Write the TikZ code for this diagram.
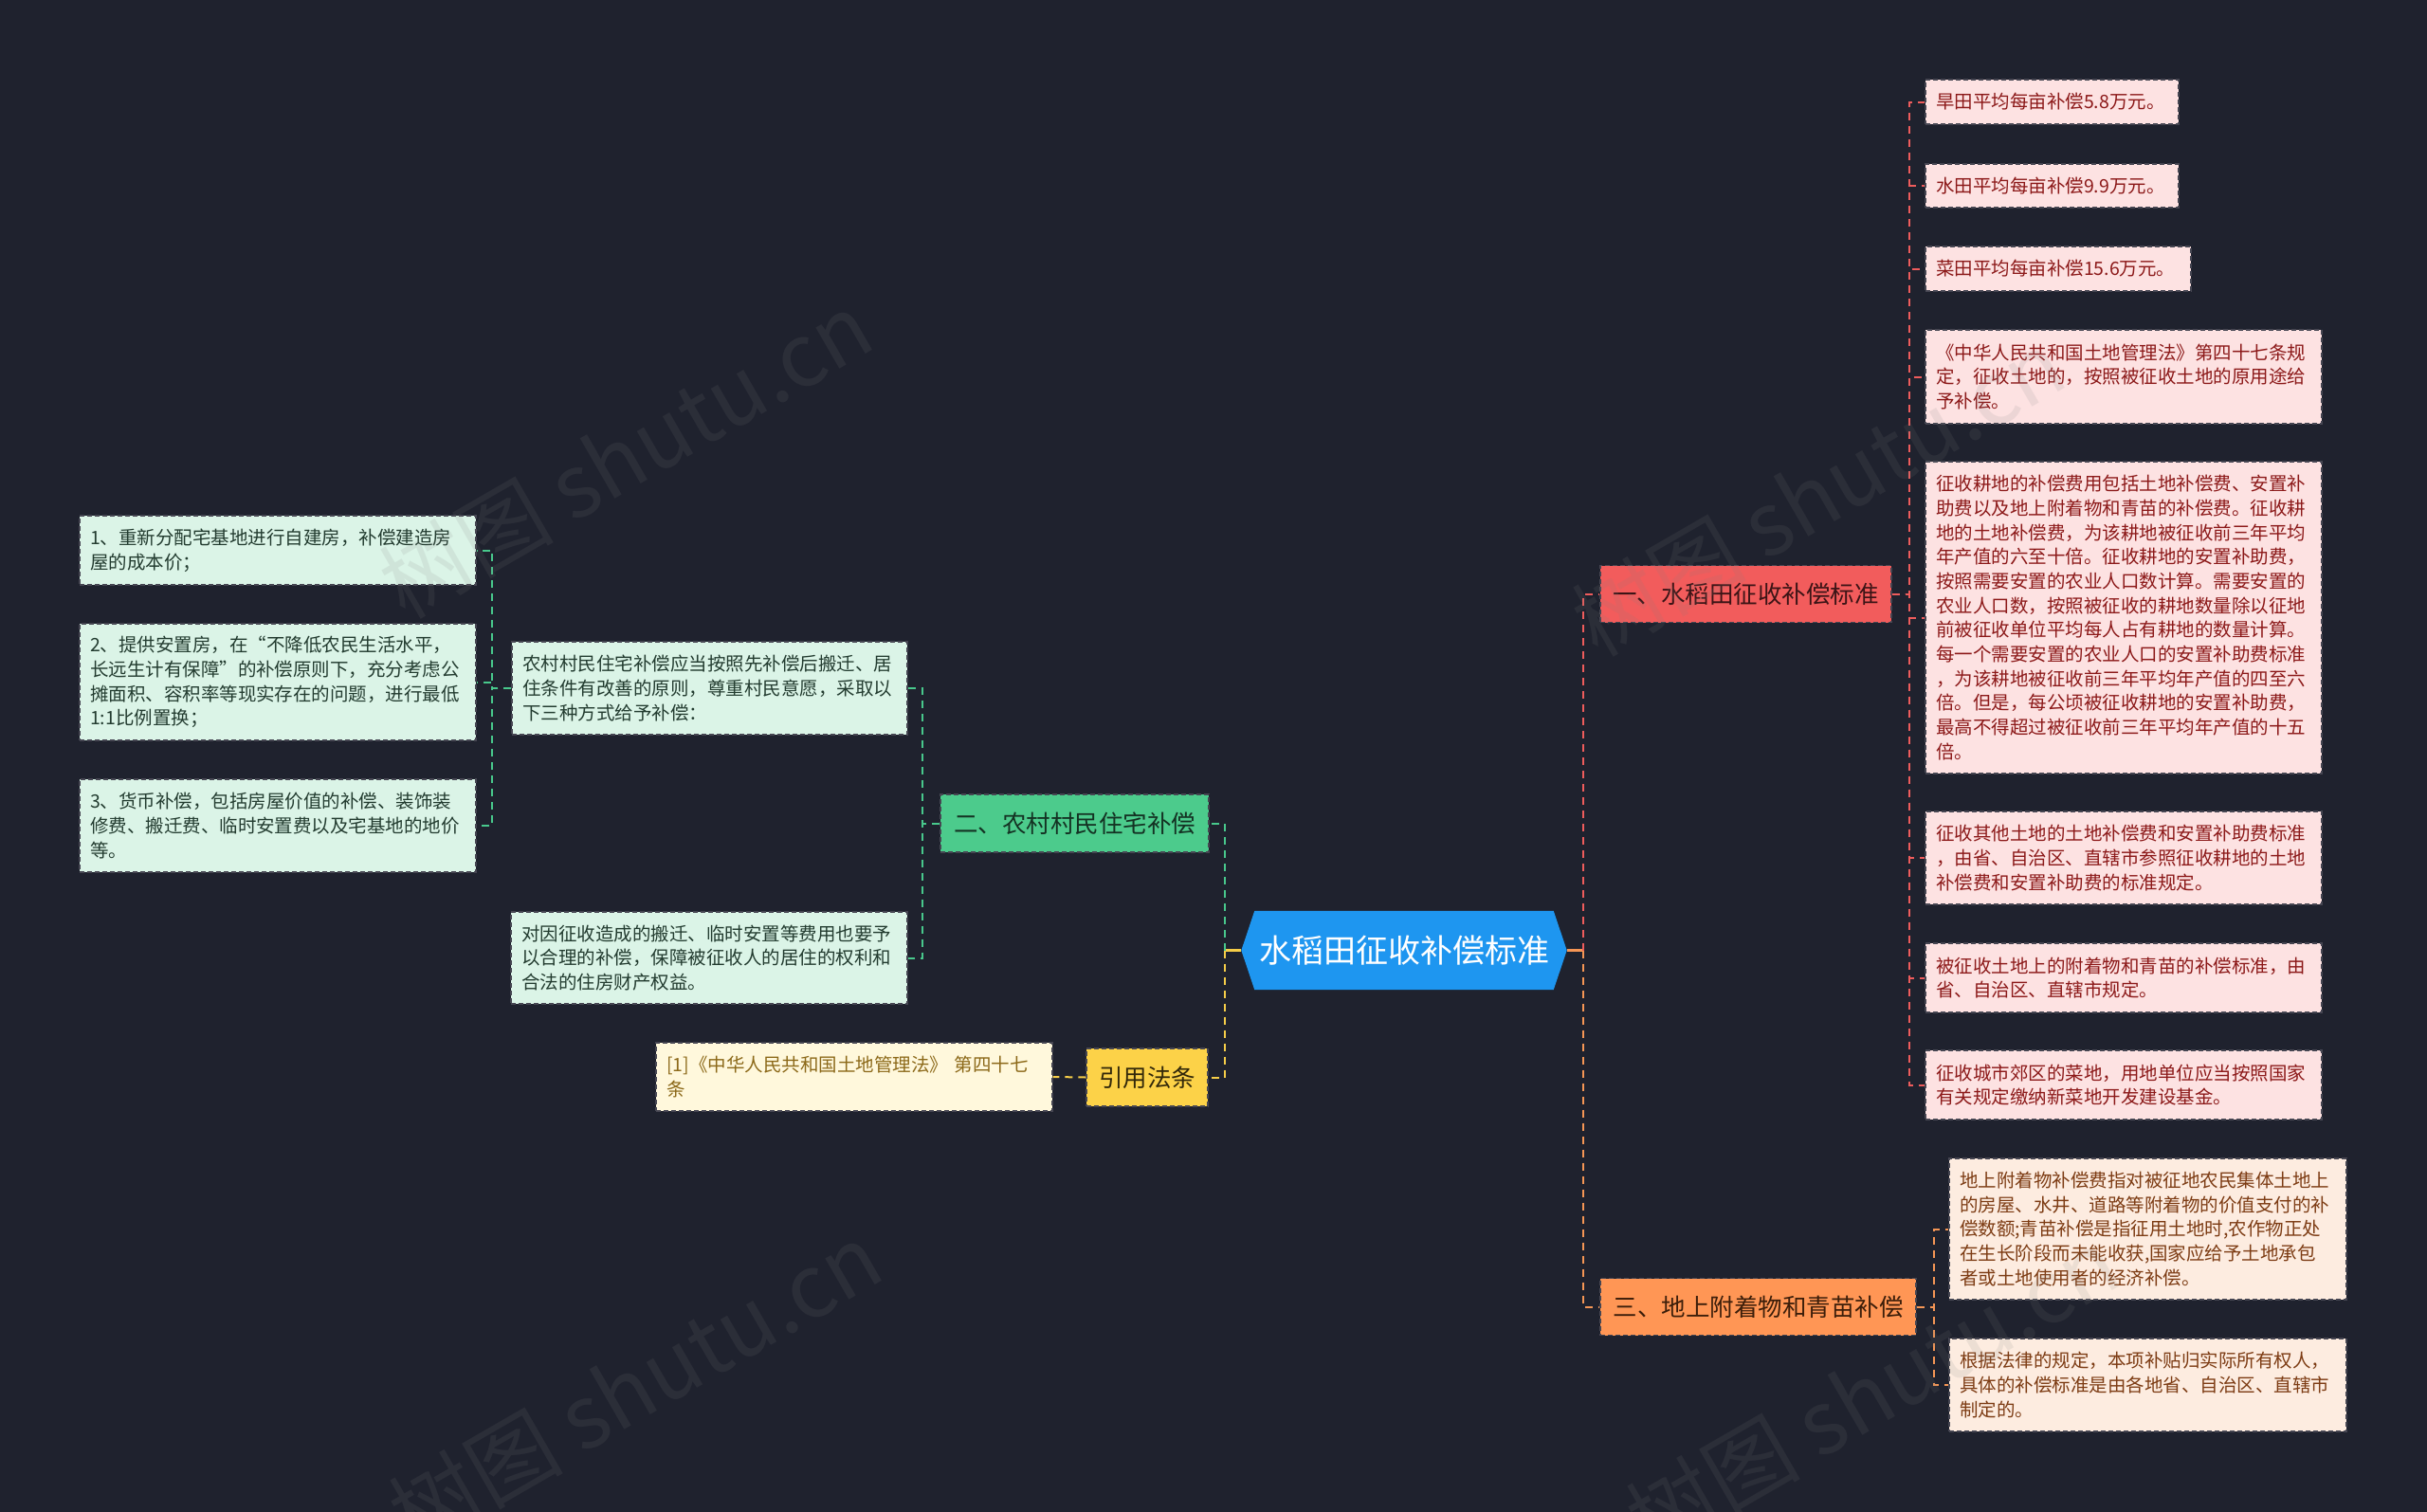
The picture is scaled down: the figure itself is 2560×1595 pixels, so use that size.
\documentclass[tikz,border=0pt]{standalone}
\usepackage{fontspec}
\setmainfont{Noto Sans CJK SC}
\usetikzlibrary{calc}
\definecolor{bgc}{RGB}{31,34,46}
\definecolor{cfill}{RGB}{30,150,240}
\definecolor{redc}{RGB}{242,92,92}
\definecolor{redt}{RGB}{60,20,22}
\definecolor{redlf}{RGB}{253,226,226}
\definecolor{redlt}{RGB}{140,25,25}
\definecolor{grnc}{RGB}{76,203,140}
\definecolor{grnt}{RGB}{20,50,35}
\definecolor{grnlf}{RGB}{219,244,231}
\definecolor{grnlt}{RGB}{35,60,48}
\definecolor{ylwc}{RGB}{252,210,72}
\definecolor{ylwt}{RGB}{50,40,10}
\definecolor{ylwlf}{RGB}{255,248,220}
\definecolor{ylwlt}{RGB}{140,105,25}
\definecolor{orgc}{RGB}{255,150,85}
\definecolor{orgt}{RGB}{60,30,10}
\definecolor{orglf}{RGB}{253,236,224}
\definecolor{orglt}{RGB}{125,60,20}
\definecolor{boxline}{RGB}{70,70,82}
\definecolor{lnred}{RGB}{238,92,92}
\definecolor{lnorg}{RGB}{245,150,85}
\definecolor{lngrn}{RGB}{72,200,140}
\definecolor{lnylw}{RGB}{245,205,72}
\pgfdeclarelayer{back}
\pgfdeclarelayer{bg}
\pgfsetlayers{back,bg,main}
\tikzset{
  boxbase/.style={rectangle, draw=boxline, line width=1.3pt, dash pattern=on 5pt off 3pt, inner ysep=0pt},
  cat/.style={boxbase, inner xsep=0pt, align=center, font=\fontsize{25.5}{30}\selectfont},
  leafbox/.style={boxbase, inner xsep=11pt, align=left, font=\fontsize{19.5}{25.7}\selectfont},
  redcat/.style={cat, fill=redc, text=redt},
  grncat/.style={cat, fill=grnc, text=grnt},
  ylwcat/.style={cat, fill=ylwc, text=ylwt},
  orgcat/.style={cat, fill=orgc, text=orgt},
  redleaf/.style={leafbox, fill=redlf, text=redlt},
  grnleaf/.style={leafbox, fill=grnlf, text=grnlt},
  ylwleaf/.style={leafbox, fill=ylwlf, text=ylwlt},
  orgleaf/.style={leafbox, fill=orglf, text=orglt},
  conn/.style={line width=2pt, dash pattern=on 8pt off 6pt},
  stub/.style={line width=2.4pt},
  wm/.style={text=gray, opacity=0.13, font=\fontsize{92}{100}\selectfont, rotate=30}
}
\begin{document}
\begin{tikzpicture}[x=1pt,y=-1pt]
\begin{pgfonlayer}{back}
\fill[bgc] (0,0) rectangle (2560,1595);
\end{pgfonlayer}
\useasboundingbox (0,0) rectangle (2560,1595);

% centre
\node[minimum width=343pt, minimum height=83pt, inner sep=0pt, text=white, font=\fontsize{34}{40}\selectfont] (C) at (1481,1002.5) {水稻田征收补偿标准};
\begin{pgfonlayer}{bg}
\fill[cfill] (C.west) -- ([xshift=14pt]C.north west) -- ([xshift=-14pt]C.north east) -- (C.east) -- ([xshift=-14pt]C.south east) -- ([xshift=14pt]C.south west) -- cycle;
\end{pgfonlayer}

% categories
\node[redcat, minimum width=307pt, minimum height=60pt] (A1) at (1841.5,626.5) {一、水稻田征收补偿标准};
\node[orgcat, minimum width=333pt, minimum height=60pt] (A3) at (1854.5,1378.5) {三、地上附着物和青苗补偿};
\node[grncat, minimum width=283pt, minimum height=61pt] (B) at (1133.5,868.5) {二、农村村民住宅补偿};
\node[ylwcat, minimum width=128pt, minimum height=61pt] (D) at (1210,1136.5) {引用法条};

% red leaves
\node[redleaf, text width=245pt, minimum height=47pt] (L1) at (2164.5,107.5) {旱田平均每亩补偿5.8万元。};
\node[redleaf, text width=245pt, minimum height=46pt] (L2) at (2164.5,196) {水田平均每亩补偿9.9万元。};
\node[redleaf, text width=258pt, minimum height=47pt] (L3) at (2171,283.5) {菜田平均每亩补偿15.6万元。};
\node[redleaf, text width=396pt, minimum height=99pt] (L4) at (2240,397.5) {《中华人民共和国土地管理法》第四十七条规\\定，征收土地的，按照被征收土地的原用途给\\予补偿。};
\node[redleaf, text width=396pt, minimum height=329pt] (L5) at (2240,651.5) {征收耕地的补偿费用包括土地补偿费、安置补\\助费以及地上附着物和青苗的补偿费。征收耕\\地的土地补偿费，为该耕地被征收前三年平均\\年产值的六至十倍。征收耕地的安置补助费，\\按照需要安置的农业人口数计算。需要安置的\\农业人口数，按照被征收的耕地数量除以征地\\前被征收单位平均每人占有耕地的数量计算。\\每一个需要安置的农业人口的安置补助费标准\\，为该耕地被征收前三年平均年产值的四至六\\倍。但是，每公顷被征收耕地的安置补助费，\\最高不得超过被征收前三年平均年产值的十五\\倍。};
\node[redleaf, text width=396pt, minimum height=98pt] (L6) at (2240,905) {征收其他土地的土地补偿费和安置补助费标准\\，由省、自治区、直辖市参照征收耕地的土地\\补偿费和安置补助费的标准规定。};
\node[redleaf, text width=396pt, minimum height=73pt] (L7) at (2240,1031.5) {被征收土地上的附着物和青苗的补偿标准，由\\省、自治区、直辖市规定。};
\node[redleaf, text width=396pt, minimum height=73pt] (L8) at (2240,1144.5) {征收城市郊区的菜地，用地单位应当按照国家\\有关规定缴纳新菜地开发建设基金。};

% orange leaves
\node[orgleaf, text width=397pt, minimum height=149pt] (M1) at (2265.5,1296.5) {地上附着物补偿费指对被征地农民集体土地上\\的房屋、水井、道路等附着物的价值支付的补\\偿数额;青苗补偿是指征用土地时,农作物正处\\在生长阶段而未能收获,国家应给予土地承包\\者或土地使用者的经济补偿。};
\node[orgleaf, text width=397pt, minimum height=98pt] (M2) at (2265.5,1461) {根据法律的规定，本项补贴归实际所有权人，\\具体的补偿标准是由各地省、自治区、直辖市\\制定的。};

% green leaves
\node[grnleaf, text width=395pt, minimum height=98pt] (B1) at (748.5,726) {农村村民住宅补偿应当按照先补偿后搬迁、居\\住条件有改善的原则，尊重村民意愿，采取以\\下三种方式给予补偿：};
\node[grnleaf, text width=396pt, minimum height=97pt] (B2) at (748,1010.5) {对因征收造成的搬迁、临时安置等费用也要予\\以合理的补偿，保障被征收人的居住的权利和\\合法的住房财产权益。};
\node[grnleaf, text width=396pt, minimum height=73pt] (B11) at (293,580.5) {1、重新分配宅基地进行自建房，补偿建造房\\屋的成本价；};
\node[grnleaf, text width=396pt, minimum height=123pt] (B12) at (293,719.5) {2、提供安置房，在“不降低农民生活水平，\\长远生计有保障”的补偿原则下，充分考虑公\\摊面积、容积率等现实存在的问题，进行最低\\1:1比例置换；};
\node[grnleaf, text width=396pt, minimum height=98pt] (B13) at (293,871) {3、货币补偿，包括房屋价值的补偿、装饰装\\修费、搬迁费、临时安置费以及宅基地的地价\\等。};

% yellow leaf
\node[ylwleaf, text width=396pt, minimum height=72pt] (D1) at (901,1136) {[1]《中华人民共和国土地管理法》 第四十七\\条};

% connectors: centre
\draw[stub, lnorg] (C.east) -- ++(17.5,0) coordinate (sR);
\draw[conn, lnred] (sR) |- (A1.west);
\draw[conn, lnorg] (sR) |- (A3.west);
\draw[stub, lnylw] (C.west) -- ++(-17.5,0) coordinate (sL);
\draw[conn, lngrn] (sL) |- (B.east);
\draw[conn, lnylw] (sL) |- (D.east);

% A1 children
\foreach \n in {L1,L2,L3,L4,L5,L6,L7,L8}
  \draw[conn, lnred] (A1.east) -- ++(18,0) |- (\n.west);
% A3 children
\foreach \n in {M1,M2}
  \draw[conn, lnorg] (A3.east) -- ++(18,0) |- (\n.west);
% B children
\foreach \n in {B1,B2}
  \draw[conn, lngrn] (B.west) -- ++(-18,0) |- (\n.east);
% B1 children
\foreach \n in {B11,B12,B13}
  \draw[conn, lngrn] (B1.west) -- ++(-20,0) |- (\n.east);
% D child
\draw[conn, lnylw] (D.west) -- (D1.east);

% watermarks
\node[wm] (W1) at (660,480) {树图 shutu.cn};
\node[wm] (W2) at (670,1462) {树图 shutu.cn};
\node[wm] (W3) at (1918,520) {树图 shutu.cn};
\node[wm] (W4) at (1975,1468) {树图 shutu.cn};
\end{tikzpicture}
\end{document}
